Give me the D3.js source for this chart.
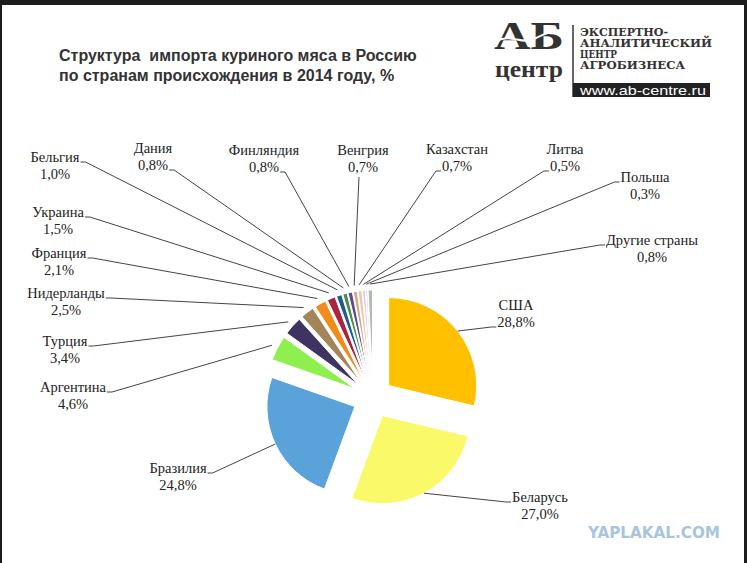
<!DOCTYPE html>
<html><head><meta charset="utf-8">
<script src="https://cdn.jsdelivr.net/npm/d3@7"></script>
<style>body{margin:0;background:#fff}svg{display:block}</style>
</head><body>
<script>
// ---- data ----
const categories = ["США","Беларусь","Бразилия","Аргентина","Турция","Нидерланды","Франция","Украина","Бельгия","Дания","Финляндия","Венгрия","Казахстан","Литва","Польша","Другие страны"];
const shares = [28.8,27.0,24.8,4.6,3.4,2.5,2.1,1.5,1.0,0.8,0.8,0.7,0.7,0.5,0.3,0.8];
const titleLines = ["Структура  импорта куриного мяса в Россию","по странам происхождения в 2014 году, %"];
const logoLines = ["ЭКСПЕРТНО-","АНАЛИТИЧЕСКИЙ","ЦЕНТР","АГРОБИЗНЕСА"];

// ---- style / layout ----
const palette = ["#FFC000","#F9F96A","#5AA3DA","#8FEF4E","#3E3363","#A4855A","#F08C1C","#A82440","#1F5E8B","#4E8B49","#5F4B8B","#CDAA7C","#F3C3B2","#D9CBDD","#C9D4E8","#AEBDAE"];
// label layout: center x, first-line baseline y, leader attachment side
const labelLayout = [
  {x:516,y:310,a:"l2"},{x:540,y:502,a:"l1"},{x:178,y:473,a:"r1"},{x:73,y:392,a:"r1"},
  {x:65,y:346,a:"r1"},{x:66,y:298,a:"r1"},{x:59,y:258,a:"r1"},{x:58,y:217,a:"r1"},
  {x:55,y:162,a:"r1"},{x:153,y:153,a:"r2"},{x:264,y:155,a:"r2"},{x:363,y:155,a:"b"},
  {x:457,y:154,a:"l2"},{x:565,y:154,a:"l2"},{x:645,y:182,a:"l1"},{x:652,y:245,a:"l1"}
];
const W=747,H=563, cx=373, cy=398, R=88, EXPLODE=20, LH=17;

const svg=d3.select("body").append("svg").attr("width",W).attr("height",H);

// frame edges
svg.append("rect").attr("x",0).attr("y",0).attr("width",W).attr("height",5).attr("fill","#1c1c1c");
svg.append("rect").attr("x",0).attr("y",0).attr("width",2).attr("height",H).attr("fill","#1c1c1c");
svg.append("rect").attr("x",744).attr("y",0).attr("width",3).attr("height",H).attr("fill","#1c1c1c");

// title
svg.append("g").selectAll("text").data(titleLines).join("text")
  .attr("x",59).attr("y",(d,i)=>61+i*20)
  .attr("font-family","Liberation Sans, Arial, sans-serif").attr("font-weight","bold")
  .attr("font-size",16).attr("fill","#333").style("white-space","pre").text(d=>d);

// logo
const logo=svg.append("g");
logo.append("text").attr("x",494).attr("y",49).attr("font-size",39).attr("textLength",70).attr("lengthAdjust","spacingAndGlyphs")
  .attr("font-family","Liberation Serif, serif").attr("font-weight","bold").attr("fill","#333").text("АБ");
logo.append("text").attr("x",495).attr("y",77).attr("font-size",23).attr("textLength",68).attr("lengthAdjust","spacingAndGlyphs")
  .attr("font-family","Liberation Serif, serif").attr("font-weight","bold").attr("fill","#333").text("центр");
logo.append("path").attr("d","M497,41 C510,33 522,45 534,39 C544,34 552,30 562,33").attr("fill","none").attr("stroke","#fff").attr("stroke-width",2);
logo.append("line").attr("x1",573).attr("x2",573).attr("y1",25).attr("y2",97).attr("stroke","#333").attr("stroke-width",1.5);
const logoW=[88,132,37,105];
logo.selectAll("text.l").data(logoLines).join("text").attr("class","l")
  .attr("x",580).attr("y",(d,i)=>36+i*11).attr("textLength",(d,i)=>logoW[i]).attr("lengthAdjust","spacingAndGlyphs")
  .attr("font-family","DejaVu Serif, serif").attr("font-weight","bold").attr("font-size",10.5).attr("fill","#333").text(d=>d);
logo.append("rect").attr("x",573).attr("y",83).attr("width",137).attr("height",14).attr("fill","#222");
logo.append("text").attr("x",580).attr("y",94.5).attr("textLength",126).attr("lengthAdjust","spacingAndGlyphs")
  .attr("font-family","Liberation Sans, Arial, sans-serif").attr("font-size",13).attr("fill","#fff").text("www.ab-centre.ru");

// pie
const pie=d3.pie().sort(null).value(d=>d.v).startAngle(0).endAngle(2*Math.PI);
const arcs=pie(shares.map((v,i)=>({v,i,name:categories[i]})));
const arc=d3.arc().innerRadius(0).outerRadius(R);
const dir=a=>{const m=(a.startAngle+a.endAngle)/2;return [Math.sin(m),-Math.cos(m)];};
const g=svg.append("g").attr("transform",`translate(${cx},${cy})`);
g.selectAll("path").data(arcs).join("path")
  .attr("transform",d=>{const u=dir(d);return `translate(${u[0]*EXPLODE},${u[1]*EXPLODE})`;})
  .attr("d",arc).attr("fill",d=>palette[d.data.i]).attr("stroke","#fff").attr("stroke-width",1);

// labels + leaders
const fmt=v=>d3.format(".1f")(v).replace(".",",")+"%";
const lab=svg.append("g").attr("font-family","Liberation Serif, Times New Roman, serif").attr("font-size",14.5).attr("fill","#222");
const lead=svg.append("g").attr("fill","none").attr("stroke","#444").attr("stroke-width",1);
arcs.forEach((d,i)=>{
  const L=labelLayout[i];
  const t1=lab.append("text").attr("x",L.x).attr("y",L.y).attr("text-anchor","middle").text(d.data.name);
  const t2=lab.append("text").attr("x",L.x).attr("y",L.y+LH).attr("text-anchor","middle").text(fmt(d.data.v));
  const w1=t1.node().getComputedTextLength(), w2=t2.node().getComputedTextLength();
  const u=dir(d), rr=R+EXPLODE+(d.data.v<5?6:0);
  const px=cx+u[0]*rr, py=cy+u[1]*rr;
  let pts;
  if(L.a==="r1"){const x=L.x+w1/2+1;pts=[[x,L.y],[x+5,L.y],[px,py]];}
  else if(L.a==="r2"){const x=L.x+w2/2+1,y=L.y+LH;pts=[[x,y],[x+5,y],[px,py]];}
  else if(L.a==="l1"){const x=L.x-w1/2-1;pts=[[x,L.y],[x-5,L.y],[px,py]];}
  else if(L.a==="l2"){const x=L.x-w2/2-1,y=L.y+LH;pts=[[x,y],[x-5,y],[px,py]];}
  else {pts=[[L.x-4,L.y+LH+5],[px,py]];}
  lead.append("path").attr("d",d3.line()(pts));
});

// watermark
svg.append("text").attr("x",588).attr("y",538).attr("textLength",132).attr("lengthAdjust","spacingAndGlyphs")
  .attr("font-family","DejaVu Sans Condensed, DejaVu Sans, sans-serif").attr("font-weight","bold").attr("font-size",15)
  .attr("fill","#A9C5DD").text("YAPLAKAL.COM");
</script>
</body></html>
